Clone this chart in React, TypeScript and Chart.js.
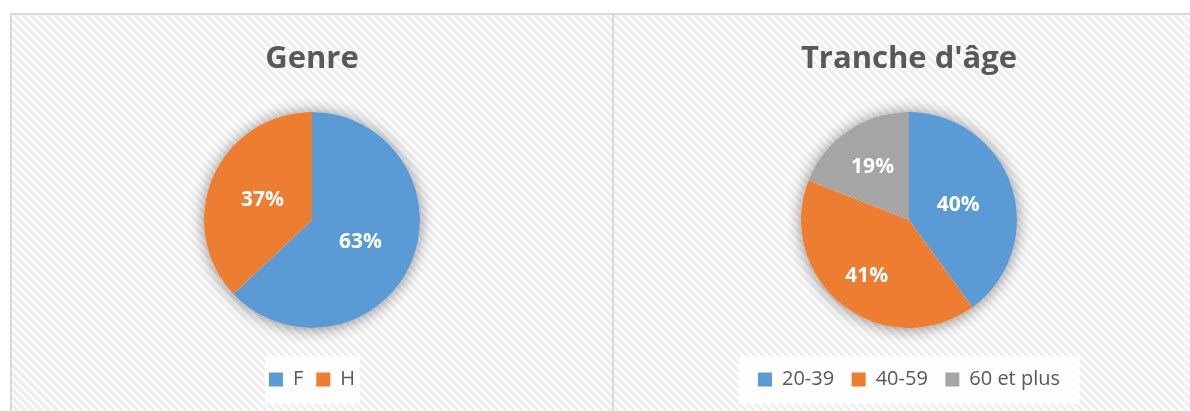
import React, { useEffect, useRef } from 'react';
import { Chart, registerables } from 'chart.js';

Chart.register(...registerables);

const genreTitle = 'Genre';
const genreLabels = ['F', 'H'];
const genreValues = [63, 37];

const ageTitle = "Tranche d'âge";
const ageLabels = ['20-39', '40-59', '60 et plus'];
const ageValues = [40, 41, 19];

const genreColors = ['#5B9BD5', '#ED7D31'];
const ageColors = ['#5B9BD5', '#ED7D31', '#A5A5A5'];

const FONT = "'Open Sans', sans-serif";
const TEXT = '#595959';

type DecoCfg = { labelRadius: number[]; padL: number; padR: number };

function makeDeco(cfg: DecoCfg) {
  return {
    id: 'pieDeco',
    beforeDraw(chart: any) {
      const boxes = chart.legend?.legendHitBoxes;
      if (!boxes || !boxes.length) return;
      const ctx = chart.ctx;
      const l = Math.min(...boxes.map((b: any) => b.left)) - cfg.padL;
      const r = Math.max(...boxes.map((b: any) => b.left + b.width)) + cfg.padR;
      const cy = boxes[0].top + boxes[0].height / 2;
      ctx.save();
      ctx.fillStyle = 'rgba(255,255,255,0.85)';
      ctx.fillRect(l, cy - 23, r - l, 47);
      ctx.restore();
    },
    beforeDatasetsDraw(chart: any) {
      const meta = chart.getDatasetMeta(0);
      const arc = meta.data[0];
      if (!arc) return;
      const p = arc.getProps(['x', 'y', 'outerRadius'], true);
      const ctx = chart.ctx;
      ctx.save();
      ctx.shadowColor = 'rgba(0,0,0,0.45)';
      ctx.shadowBlur = 16;
      ctx.shadowOffsetX = 0;
      ctx.shadowOffsetY = 1;
      ctx.fillStyle = '#ffffff';
      ctx.beginPath();
      ctx.arc(p.x, p.y, p.outerRadius, 0, Math.PI * 2);
      ctx.fill();
      ctx.restore();
    },
    afterDatasetsDraw(chart: any) {
      const meta = chart.getDatasetMeta(0);
      const values: number[] = chart.data.datasets[0].data;
      const total = values.reduce((a, b) => a + b, 0);
      const ctx = chart.ctx;
      ctx.save();
      ctx.fillStyle = '#ffffff';
      ctx.font = `bold 21px ${FONT}`;
      ctx.textAlign = 'center';
      ctx.textBaseline = 'middle';
      meta.data.forEach((arc: any, i: number) => {
        const p = arc.getProps(['x', 'y', 'startAngle', 'endAngle', 'outerRadius'], true);
        const mid = (p.startAngle + p.endAngle) / 2;
        const rr = p.outerRadius * cfg.labelRadius[i];
        const x = p.x + Math.cos(mid) * rr;
        const y = p.y + Math.sin(mid) * rr;
        ctx.fillText(Math.round((values[i] / total) * 100) + '%', x, y + 1);
      });
      ctx.restore();
    },
  };
}

function PieChart(props: {
  title: string;
  labels: string[];
  values: number[];
  colors: string[];
  width: number;
  height: number;
  deco: DecoCfg;
  legendPadding: number;
}) {
  const ref = useRef<HTMLCanvasElement>(null);
  useEffect(() => {
    if (!ref.current) return;
    const chart = new Chart(ref.current, {
      type: 'pie',
      data: {
        labels: props.labels,
        datasets: [
          {
            data: props.values,
            backgroundColor: props.colors,
            borderWidth: 0,
            radius: 108,
          } as any,
        ],
      },
      options: {
        responsive: false,
        animation: false,
        devicePixelRatio: 1,
        layout: { padding: { top: 0, bottom: 20.5, left: 0, right: 0 } },
        events: [],
        plugins: {
          tooltip: { enabled: false },
          title: {
            display: true,
            text: props.title,
            color: TEXT,
            font: { family: FONT, size: 31, weight: 'bold', lineHeight: 1.2 },
            padding: { top: 25.1, bottom: 13.2 - (20 - props.legendPadding) },
          },
          legend: {
            display: true,
            position: 'bottom',
            labels: {
              color: TEXT,
              font: { family: FONT, size: 20 },
              boxWidth: 14,
              boxHeight: 14,
              padding: props.legendPadding,
            },
          },
        },
      },
      plugins: [makeDeco(props.deco)],
    });
    return () => chart.destroy();
  }, []);
  return (
    <canvas
      ref={ref}
      width={props.width}
      height={props.height}
      style={{ display: 'block', width: props.width, height: props.height }}
    />
  );
}

export default function App() {
  const border = '#d9d9d9';
  return (
    <div
      style={{
        position: 'fixed',
        left: 0,
        top: 0,
        width: '100vw',
        height: '100vh',
        overflow: 'hidden',
        background: '#ffffff',
      }}
    >
      <div
        style={{
          position: 'absolute',
          left: 10,
          top: 13,
          width: 1200,
          height: 420,
          borderLeft: `2px solid ${border}`,
          borderTop: `2px solid ${border}`,
          background:
            'repeating-linear-gradient(45deg, #fdfdfd 0px, #fdfdfd 2.8px, #eeeeee 2.8px, #eeeeee 5.66px)',
        }}
      >
        <div style={{ position: 'absolute', left: 0, top: 0 }}>
          <PieChart
            title={genreTitle}
            labels={genreLabels}
            values={genreValues}
            colors={genreColors}
            width={600}
            height={405}
            legendPadding={13}
            deco={{ labelRadius: [0.49, 0.5], padL: 4, padR: 5 }}
          />
        </div>
        <div
          style={{ position: 'absolute', left: 600, top: 0, width: 2, height: 420, background: border }}
        />
        <div style={{ position: 'absolute', left: 602, top: 0 }}>
          <PieChart
            title={ageTitle}
            labels={ageLabels}
            values={ageValues}
            colors={ageColors}
            width={590}
            height={405}
            legendPadding={17.5}
            deco={{ labelRadius: [0.48, 0.64, 0.6], padL: 18.5, padR: 19.5 }}
          />
        </div>
      </div>
    </div>
  );
}
